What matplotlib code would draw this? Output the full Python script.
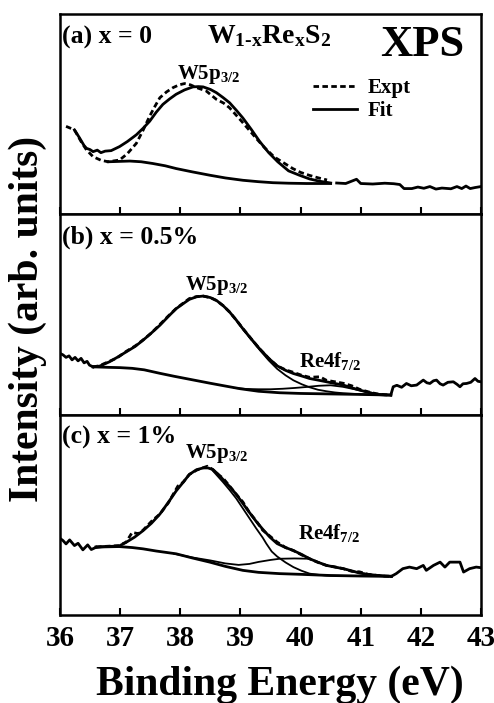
import numpy as np
import matplotlib
matplotlib.use("Agg")
from matplotlib import pyplot as plt

plt.rcParams["font.family"] = ["Liberation Serif", "DejaVu Serif"]
plt.rcParams["font.weight"] = "bold"
plt.rcParams["mathtext.fontset"] = "custom"
plt.rcParams["mathtext.rm"] = "Liberation Serif:bold"
plt.rcParams["mathtext.it"] = "Liberation Serif:bold"
plt.rcParams["mathtext.bf"] = "Liberation Serif:bold"

# ---- panel (a): x = 0 ----
a_expt_e = [36.10, 36.24, 36.35, 36.44, 36.55, 36.68, 36.80, 36.99, 37.12, 37.27,
            37.38, 37.49, 37.58, 37.66, 37.77, 37.88, 37.98, 38.07, 38.17, 38.27,
            38.43, 38.60, 38.72, 38.82, 39.02, 39.15, 39.26, 39.40, 39.54, 39.60,
            39.73, 39.87, 40.00, 40.15, 40.30, 40.44, 40.60,
            40.75, 40.93, 41.00, 41.20, 41.40, 41.55, 41.65, 41.72, 41.85, 41.95,
            42.05, 42.15, 42.25, 42.35, 42.50, 42.60, 42.68, 42.75, 42.82, 42.90, 43.00]
a_expt_i = [87, 83.5, 72, 63.7, 57, 53.5, 52, 53.7, 60, 70.3,
            83, 97, 107, 115.3, 121, 125.3, 128, 129.3, 128, 125.3,
            122, 113.7, 110, 105.3, 92, 83, 75.3, 66, 58, 55.3,
            50.5, 45.3, 41.5, 38.5, 36, 34, 31,
            30.5, 34.7, 30.5, 30, 30.8, 30.3, 29.5, 25.5, 25.5, 27,
            25.8, 27.5, 25, 26, 25.3, 27.5, 25.5, 28, 25.5, 26.5, 27.5]
a_fit_e = [36.24, 36.32, 36.40, 36.44, 36.50, 36.55, 36.62, 36.68, 36.75, 36.85,
           36.99, 37.12, 37.27, 37.38, 37.49, 37.60, 37.71, 37.82, 37.93, 38.07,
           38.21, 38.30, 38.38, 38.50, 38.60, 38.71, 38.82, 38.93, 39.04, 39.18,
           39.32, 39.47, 39.62, 39.80, 39.98, 40.15, 40.32, 40.50]
a_fit_i = [83.5, 76, 68, 65.3, 64, 62, 63.5, 61, 62.5, 63,
           67, 72, 78.7, 85, 92, 101, 108.7, 114, 118.7, 123,
           126, 126.3, 126, 123.5, 120.3, 115.5, 110.3, 103, 95.3, 84,
           72, 61, 52, 43, 38.7, 35, 32.7, 31]
a_bg_e = [36.80, 37.16, 37.35, 37.54, 37.75, 37.93, 38.20, 38.49, 38.75, 39.04,
          39.30, 39.54, 39.80, 40.10, 40.50]
a_bg_i = [52, 52.7, 52, 50.3, 48, 45.3, 42, 38.7, 36, 33.7,
          32.3, 31.3, 30.8, 30.5, 30.5]

# ---- panel (b): x = 0.5% ----
b_expt_e = [36.00, 36.05, 36.10, 36.15, 36.20, 36.25, 36.30, 36.35, 36.40, 36.45,
            36.49, 36.55, 36.65, 36.82, 36.95, 37.10, 37.25, 37.38, 37.52, 37.66,
            37.80, 37.93, 38.05, 38.15, 38.27, 38.38, 38.50, 38.60, 38.71, 38.82,
            38.93, 39.04, 39.18, 39.32, 39.47, 39.61, 39.75, 39.88, 40.02, 40.15,
            40.32, 40.43, 40.62, 40.71, 40.85, 40.98, 41.12, 41.26, 41.40, 41.50,
            41.54, 41.60, 41.68, 41.76, 41.84, 41.93, 42.04, 42.10, 42.15, 42.21,
            42.26, 42.32, 42.37, 42.45, 42.54, 42.60, 42.65, 42.70, 42.76, 42.83,
            42.90, 42.95, 43.00]
b_expt_i = [61.5, 60, 57.5, 59, 55, 57.5, 54, 56.5, 52, 53.5,
            49.7, 48, 49, 53.5, 57, 63.5, 69, 75, 82, 90.5,
            99, 106.5, 112, 116.5, 118.5, 119, 117.5, 114.5, 109.5, 103,
            95, 86.5, 76, 66, 56.5, 49, 45, 42.5, 39.5, 37.5,
            38, 34.5, 32.5, 31.5, 29, 25.5, 23, 21, 20, 19.7,
            28, 29.5, 27.5, 31.3, 29, 29.7, 34.7, 32, 31.3, 34,
            34.7, 31, 29.7, 32.5, 33, 30.5, 28, 31, 31.3, 32.5,
            36.3, 33.5, 33]
b_fit_e = [36.55, 36.65, 36.82, 36.95, 37.10, 37.25, 37.38, 37.52, 37.66, 37.80,
           37.93, 38.05, 38.15, 38.27, 38.38, 38.50, 38.60, 38.71, 38.82, 38.93,
           39.04, 39.18, 39.32, 39.47, 39.61, 39.75, 39.88, 40.02, 40.15, 40.29,
           40.43, 40.57, 40.71, 40.85, 40.98, 41.12, 41.26, 41.40, 41.50]
b_fit_i = [48, 48.5, 53, 57.5, 63, 68.5, 74.7, 82, 89.7, 98.5,
           106.3, 111.5, 115.7, 118.3, 119, 117.5, 114.7, 109.5, 103, 95,
           86.3, 76, 66, 56.5, 49, 44.5, 41.3, 38.8, 36.3, 34.7,
           33, 31.3, 29.7, 27, 24.7, 22.5, 20.3, 19.8, 19.7]
b_w_e = [38.93, 39.04, 39.18, 39.32, 39.47, 39.61, 39.75, 39.88, 40.02, 40.15,
         40.29, 40.43, 40.57, 40.71, 40.85, 41.00, 41.20, 41.50]
b_w_i = [95, 86, 75.5, 65, 54.5, 46, 39.5, 34.5, 30.5, 27.5,
         25, 23.5, 22.3, 21.5, 21, 20.5, 20.1, 19.7]
b_re_e = [38.90, 39.10, 39.30, 39.50, 39.70, 39.90, 40.10, 40.30, 40.50, 40.70,
          40.90, 41.10, 41.30, 41.50]
b_re_i = [26.8, 25.8, 25.5, 25.5, 26, 26.8, 27.8, 29, 29.5, 28,
          25.5, 22.8, 20.8, 19.7]
b_bg_e = [36.55, 36.80, 37.00, 37.20, 37.40, 37.66, 37.90, 38.20, 38.50, 38.77,
          39.00, 39.30, 39.65, 40.00, 40.50, 41.00, 41.50]
b_bg_i = [48, 47.5, 47.2, 46.5, 45, 41.5, 38.5, 35, 31.5, 28.5,
          26, 23.5, 22, 21.3, 20.8, 20.3, 19.7]

# ---- panel (c): x = 1% ----
c_expt_e = [35.99, 36.05, 36.10, 36.16, 36.24, 36.30, 36.38, 36.46, 36.52, 36.60,
            36.70, 36.85, 36.98, 37.10, 37.20, 37.30, 37.38, 37.53, 37.66, 37.80,
            37.96, 38.05, 38.15, 38.27, 38.38, 38.45, 38.54, 38.62, 38.71, 38.82,
            38.93, 39.04, 39.15, 39.26, 39.37, 39.49, 39.61, 39.75, 39.88, 40.02,
            40.15, 40.29, 40.43, 40.57, 40.71, 40.85, 40.98, 41.12, 41.26, 41.40,
            41.51, 41.59, 41.70, 41.81, 41.93, 42.04, 42.09, 42.21, 42.32, 42.40,
            42.48, 42.65, 42.71, 42.81, 42.92, 43.00]
c_expt_i = [77.7, 75, 71.7, 75.7, 70, 72.3, 65.7, 70.7, 66, 68.3,
            69, 69.5, 70, 73.5, 83.3, 82, 85.5, 95, 101.7, 113,
            130, 134, 141.7, 146, 148.5, 150, 146.7, 142, 138, 130,
            121.7, 114, 103.3, 95, 85.5, 79.5, 73.5, 68, 65, 60.5,
            56.7, 53, 50, 48.5, 46.7, 44, 43.5, 41, 40, 39.2,
            39, 41.7, 46.7, 48.3, 46.7, 50, 45, 50, 53.3, 48.3,
            53.3, 53.3, 43.3, 46.7, 48.3, 47.7]
c_fit_e = [36.60, 36.75, 36.98, 37.10, 37.24, 37.38, 37.52, 37.66, 37.80, 37.93,
           38.05, 38.15, 38.27, 38.38, 38.46, 38.54, 38.62, 38.71, 38.82, 38.93,
           39.04, 39.15, 39.26, 39.37, 39.49, 39.61, 39.75, 39.88, 40.02, 40.15,
           40.29, 40.43, 40.57, 40.71, 40.85, 40.98, 41.12, 41.26, 41.40, 41.51]
c_fit_i = [68.5, 69, 69.5, 73.3, 78.5, 85, 92.5, 101.7, 113.5, 125,
           134, 141.7, 146.5, 148.3, 148.3, 146.7, 142.5, 136.7, 129.5, 121.7,
           112.5, 103.3, 94.5, 86.5, 78.5, 72, 68, 65, 61, 56.7,
           53.2, 50, 48.3, 46.7, 44.5, 42.3, 41, 40, 39.3, 39]
c_w_e = [38.54, 38.71, 38.82, 38.93, 39.04, 39.15, 39.26, 39.37, 39.43, 39.52,
         39.61, 39.75, 39.88, 40.02, 40.15, 40.30, 40.43, 40.70, 41.00, 41.51]
c_w_i = [145.5, 134, 126, 117.5, 107.5, 97.5, 87.5, 78, 72, 64,
         59, 53, 48.3, 44.5, 41.7, 40.5, 39.8, 39.5, 39.2, 39]
c_re_e = [37.90, 38.20, 38.50, 38.75, 38.97, 39.15, 39.30, 39.50, 39.65, 39.90,
          40.15, 40.29, 40.43, 40.57, 40.71, 40.85, 40.98, 41.12, 41.26, 41.51]
c_re_i = [61.7, 58, 55, 52, 50.5, 51.5, 53.5, 55.5, 56.7, 57,
          56.7, 53.2, 50, 48.3, 46.7, 44.5, 42.3, 41, 40, 39]
c_bg_e = [36.60, 36.98, 37.20, 37.38, 37.60, 37.93, 38.20, 38.49, 38.75, 39.04,
          39.30, 39.65, 40.00, 40.50, 41.00, 41.51]
c_bg_i = [68.5, 69, 68, 66.7, 64.5, 61.7, 57.5, 53.3, 49, 45,
          43, 41.7, 41, 39.8, 39.3, 39]

panel_labels = ["(a) x = 0", "(b) x = 0.5%", "(c) x = 1%"]
xticks = [36, 37, 38, 39, 40, 41, 42, 43]

DASH = (0, (2, 1.2))
LW = 2.0


def draw_expt(ax, e, i, fit_e):
    # raw data: dashed inside the fitting window, solid outside
    e = np.asarray(e)
    i = np.asarray(i)
    lo, hi = min(fit_e), max(fit_e)
    inside = (e >= lo) & (e <= hi)
    left = e <= lo
    right = e >= hi
    ax.plot(e[left], i[left], color="black", lw=LW)
    ax.plot(e[right], i[right], color="black", lw=LW)
    (ln,) = ax.plot(e[inside], i[inside], color="black", lw=LW, ls=DASH)
    return ln


fig, axes = plt.subplots(3, 1, figsize=(4.94, 7.03), dpi=100, sharex=True)
fig.subplots_adjust(left=0.1215, right=0.9737, top=0.980, bottom=0.1252, hspace=0)

ax_a, ax_b, ax_c = axes

# (a)
ax_a.plot(a_expt_e[:2], a_expt_i[:2], color="black", lw=LW, ls=DASH)
expt_line = draw_expt(ax_a, a_expt_e[1:], a_expt_i[1:], a_fit_e)
(fit_line,) = ax_a.plot(a_fit_e, a_fit_i, color="black", lw=LW)
ax_a.plot(a_bg_e, a_bg_i, color="black", lw=LW)

# (b)
draw_expt(ax_b, b_expt_e, b_expt_i, b_fit_e)
ax_b.plot(b_fit_e, b_fit_i, color="black", lw=LW)
ax_b.plot(b_w_e, b_w_i, color="black", lw=1.3)
ax_b.plot(b_re_e, b_re_i, color="black", lw=1.3)
ax_b.plot(b_bg_e, b_bg_i, color="black", lw=LW)

# (c)
draw_expt(ax_c, c_expt_e, c_expt_i, c_fit_e)
ax_c.plot(c_fit_e, c_fit_i, color="black", lw=LW)
ax_c.plot(c_w_e, c_w_i, color="black", lw=1.3)
ax_c.plot(c_re_e, c_re_i, color="black", lw=1.3)
ax_c.plot(c_bg_e, c_bg_i, color="black", lw=LW)

ylims = [198, 201, 202]
for ax, lab, top in zip(axes, panel_labels, ylims):
    ax.set_xlim(36, 43)
    ax.set_ylim(0, top)
    ax.set_yticks([])
    ax.set_xticks(xticks)
    ax.tick_params(axis="x", direction="in", length=5, width=1.5,
                   labelsize=21, pad=7, top=False)
    for sp in ax.spines.values():
        sp.set_linewidth(1.8)
    ax.text(0.005, 0.855, lab, transform=ax.transAxes, fontsize=18.5,
            fontweight="bold", va="baseline", ha="left")

# annotations
ax_a.text(38.44, 169, r"W$_{1\text{-}x}$Re$_x$S$_2$", fontsize=20, va="baseline")
ax_a.text(41.32, 157, "XPS", fontsize=32, va="baseline")
ax_a.text(37.94, 134, r"W5p$_{3/2}$", fontsize=15, va="baseline")
ax_b.text(38.07, 125, r"W5p$_{3/2}$", fontsize=15, va="baseline")
ax_b.text(39.97, 48, r"Re4f$_{7/2}$", fontsize=15, va="baseline")
ax_c.text(38.07, 158, r"W5p$_{3/2}$", fontsize=15, va="baseline")
ax_c.text(39.95, 76.7, r"Re4f$_{7/2}$", fontsize=15, va="baseline")

ax_a.legend([expt_line, fit_line], ["Expt", "Fit"], frameon=False,
            loc="upper left", bbox_to_anchor=(0.601, 0.68), borderpad=0,
            borderaxespad=0, handlelength=2.1, handletextpad=0.5,
            labelspacing=0.15, prop=dict(size=15, weight="bold"))

fig.text(0.0567, 0.546, "Intensity (arb. units)", rotation=90, fontsize=30,
         fontweight="bold", ha="center", va="center")
fig.text(0.567, 0.0114, "Binding Energy (eV)", fontsize=30, fontweight="bold",
         ha="center", va="baseline")

fig.savefig("out.png", dpi=100)
